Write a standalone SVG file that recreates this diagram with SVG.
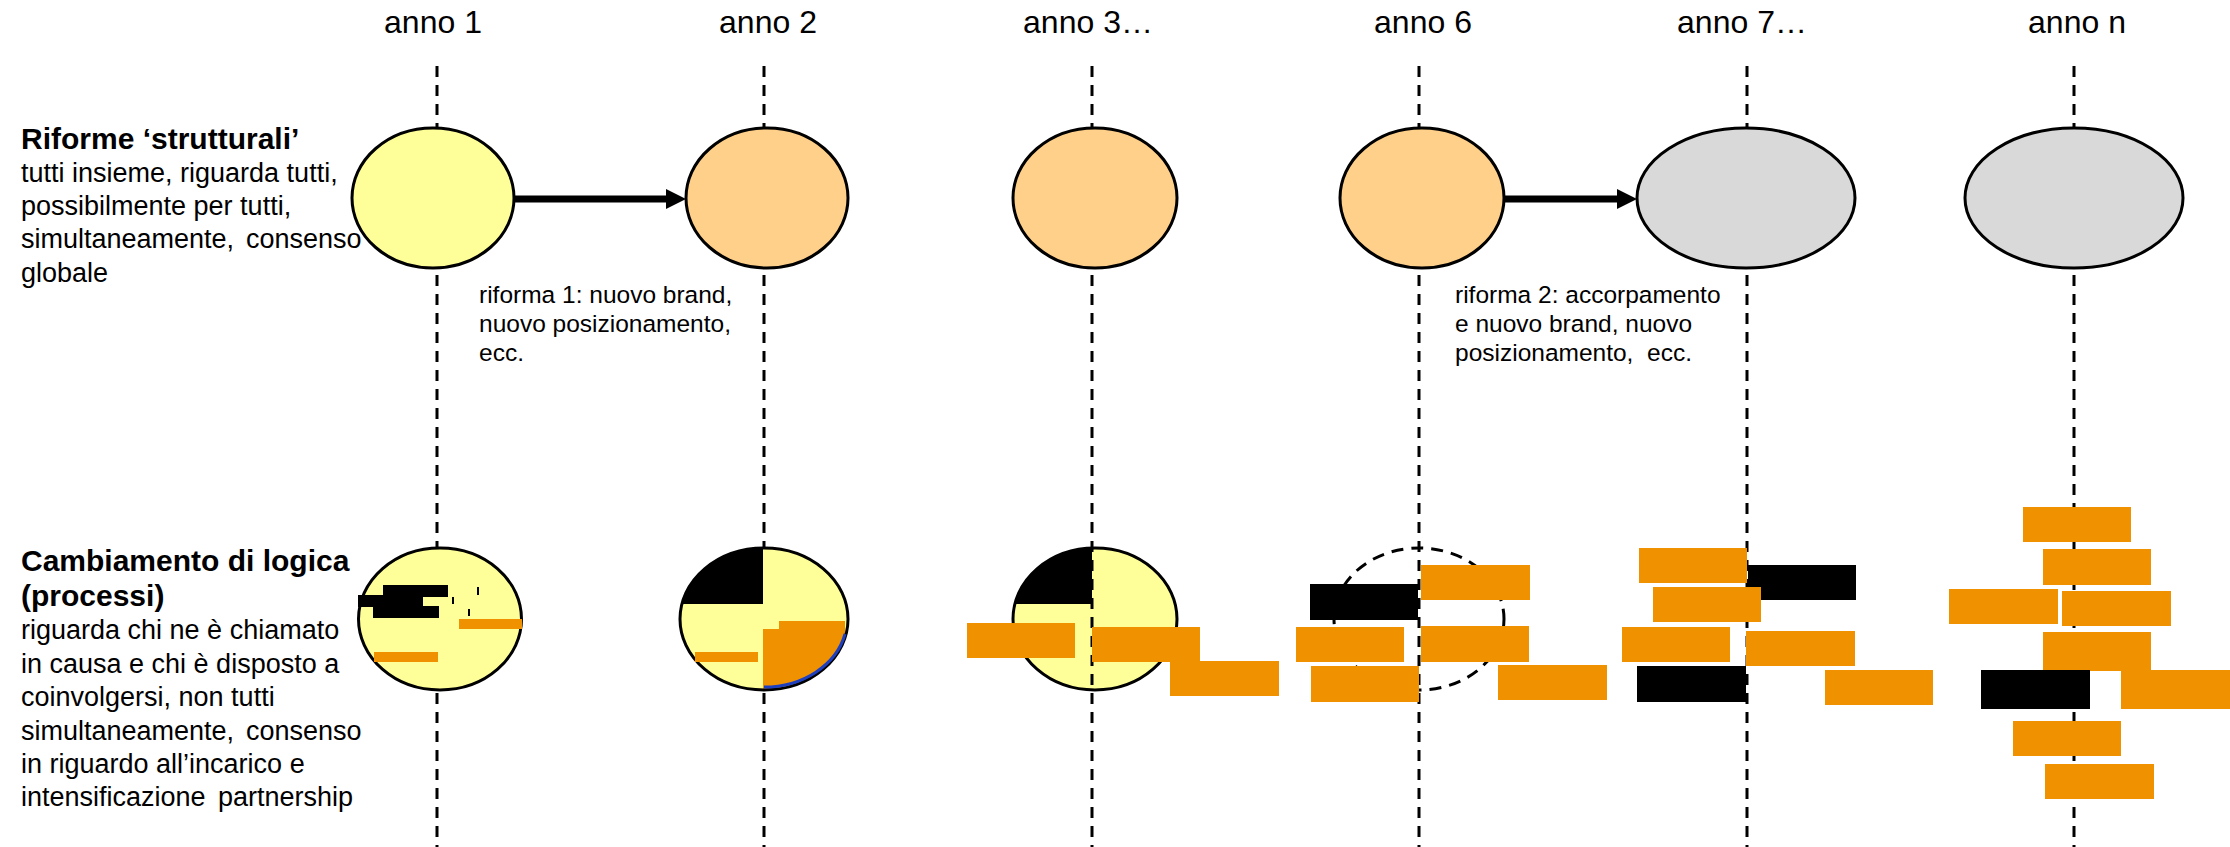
<svg xmlns="http://www.w3.org/2000/svg" width="2230" height="847" viewBox="0 0 2230 847">
  <style>
    .t { font-family: "Liberation Sans", Arial, sans-serif; fill: #000; }
    .hdr { font-size: 32px; text-anchor: middle; }
    .ttl { font-size: 30px; font-weight: bold; }
    .body { font-size: 27px; }
    .note { font-size: 24.5px; }
    .grid { stroke: #000; stroke-width: 3; stroke-dasharray: 11 8; fill: none; }
    .ell { stroke: #000; stroke-width: 3; }
    .yel { fill: #FFFF99; }
    .org { fill: #FFD08A; }
    .gry { fill: #D9D9D9; }
    .bar { fill: #F09100; }
    .blk { fill: #000; }
    .arrow { stroke: #000; stroke-width: 7; fill: none; }
  </style>
  <defs>
    <marker id="head" viewBox="0 0 20 20" refX="0" refY="10" markerUnits="userSpaceOnUse" markerWidth="20" markerHeight="20" orient="auto">
      <path d="M0,0 L20,10 L0,20 z" fill="#000"/>
    </marker>
    <clipPath id="clip-b2"><ellipse cx="764" cy="619" rx="84" ry="71"/></clipPath>
    <clipPath id="clip-b3"><ellipse cx="1095" cy="619" rx="82" ry="71"/></clipPath>
  </defs>

  <rect width="2230" height="847" fill="#fff"/>

  <!-- process circle for year 3 sits under its timeline -->
  <g id="proc-3-circle">
    <ellipse class="yel" cx="1095" cy="619" rx="82" ry="71"/>
    <rect class="blk" x="1000" y="540" width="92" height="64" clip-path="url(#clip-b3)"/>
    <ellipse class="ell" cx="1095" cy="619" rx="82" ry="71" fill="none"/>
  </g>

  <!-- year timelines -->
  <g id="timelines">
    <line class="grid" x1="437" y1="66" x2="437" y2="847"/>
    <line class="grid" x1="764" y1="66" x2="764" y2="847"/>
    <line class="grid" x1="1092" y1="66" x2="1092" y2="847"/>
    <line class="grid" x1="1419" y1="66" x2="1419" y2="847"/>
    <line class="grid" x1="1747" y1="66" x2="1747" y2="847"/>
    <line class="grid" x1="2074" y1="66" x2="2074" y2="847"/>
  </g>

  <!-- year headers -->
  <g id="headers">
    <text class="t hdr" x="433" y="33">anno 1</text>
    <text class="t hdr" x="768" y="33">anno 2</text>
    <text class="t hdr" x="1088" y="33">anno 3…</text>
    <text class="t hdr" x="1423" y="33">anno 6</text>
    <text class="t hdr" x="1742" y="33">anno 7…</text>
    <text class="t hdr" x="2077" y="33">anno n</text>
  </g>

  <!-- row labels -->
  <g id="label-riforme">
    <text class="t ttl" x="21" y="149">Riforme ‘strutturali’</text>
    <text class="t body" x="21" y="182">tutti insieme, riguarda tutti,</text>
    <text class="t body" x="21" y="215">possibilmente per tutti,</text>
    <text class="t body" y="248"><tspan x="21">simultaneamente,</tspan><tspan x="246">consenso</tspan></text>
    <text class="t body" x="21" y="282">globale</text>
  </g>
  <g id="label-logica">
    <text class="t ttl" x="21" y="571">Cambiamento di logica</text>
    <text class="t ttl" x="21" y="606">(processi)</text>
    <text class="t body" x="21" y="639">riguarda chi ne è chiamato</text>
    <text class="t body" x="21" y="673">in causa e chi è disposto a</text>
    <text class="t body" x="21" y="706">coinvolgersi, non tutti</text>
    <text class="t body" y="740"><tspan x="21">simultaneamente,</tspan><tspan x="246">consenso</tspan></text>
    <text class="t body" x="21" y="773">in riguardo all’incarico e</text>
    <text class="t body" y="806"><tspan x="21">intensificazione</tspan><tspan x="218">partnership</tspan></text>
  </g>

  <!-- structural reforms row -->
  <g id="reform-1"><ellipse class="ell yel" cx="433" cy="198" rx="81" ry="70"/></g>
  <g id="reform-2"><ellipse class="ell org" cx="767" cy="198" rx="81" ry="70"/></g>
  <g id="reform-3"><ellipse class="ell org" cx="1095" cy="198" rx="82" ry="70"/></g>
  <g id="reform-6"><ellipse class="ell org" cx="1422" cy="198" rx="82" ry="70"/></g>
  <g id="reform-7"><ellipse class="ell gry" cx="1746" cy="198" rx="109" ry="70"/></g>
  <g id="reform-n"><ellipse class="ell gry" cx="2074" cy="198" rx="109" ry="70"/></g>

  <g id="connectors">
    <line class="arrow" x1="514" y1="199" x2="666" y2="199" marker-end="url(#head)"/>
    <line class="arrow" x1="1504" y1="199" x2="1617" y2="199" marker-end="url(#head)"/>
  </g>

  <g id="note-riforma-1">
    <text class="t note" x="479" y="303">riforma 1: nuovo brand,</text>
    <text class="t note" x="479" y="332">nuovo posizionamento,</text>
    <text class="t note" x="479" y="361">ecc.</text>
  </g>
  <g id="note-riforma-2">
    <text class="t note" x="1455" y="303">riforma 2: accorpamento</text>
    <text class="t note" x="1455" y="332">e nuovo brand, nuovo</text>
    <text class="t note" x="1455" y="361" xml:space="preserve">posizionamento,  ecc.</text>
  </g>

  <!-- process row, year 1 -->
  <g id="proc-1">
    <ellipse class="ell yel" cx="440" cy="619" rx="81.5" ry="71"/>
    <rect class="blk" x="383" y="585" width="65" height="12"/>
    <rect class="blk" x="358" y="595" width="65" height="12"/>
    <rect class="blk" x="373" y="606" width="66" height="12"/>
    <rect class="blk" x="477" y="587" width="2" height="8"/>
    <rect class="blk" x="452" y="597" width="2" height="7"/>
    <rect class="blk" x="468" y="609" width="2" height="7"/>
    <rect class="bar" x="459" y="619" width="63" height="10"/>
    <rect class="bar" x="374" y="652" width="64" height="10"/>
  </g>

  <!-- process row, year 2 -->
  <g id="proc-2">
    <ellipse class="yel" cx="764" cy="619" rx="84" ry="71"/>
    <rect class="blk" x="670" y="540" width="93" height="64" clip-path="url(#clip-b2)"/>
    <polygon class="bar" points="763,629 779,629 779,621 845,621 845,700 763,700" clip-path="url(#clip-b2)"/>
    <ellipse class="ell" cx="764" cy="619" rx="84" ry="71" fill="none"/>
    <path d="M764,687 A83,68 0 0,0 845,634" fill="none" stroke="#1E40C0" stroke-width="3"/>
    <rect class="bar" x="695" y="652" width="63" height="10"/>
  </g>

  <!-- process row, year 3 bars -->
  <g id="proc-3">
    <rect class="bar" x="967" y="623" width="108" height="35"/>
    <rect class="bar" x="1092" y="627" width="108" height="35"/>
    <rect class="bar" x="1170" y="661" width="109" height="35"/>
  </g>

  <!-- process row, year 6 -->
  <g id="proc-6">
    <ellipse cx="1419" cy="619" rx="85" ry="71" fill="none" stroke="#000" stroke-width="3" stroke-dasharray="12 8"/>
    <rect class="blk" x="1310" y="584" width="108" height="36"/>
    <rect class="bar" x="1421" y="565" width="109" height="35"/>
    <rect class="bar" x="1296" y="627" width="108" height="35"/>
    <rect class="bar" x="1421" y="626" width="108" height="36"/>
    <rect class="bar" x="1311" y="666" width="108" height="36"/>
    <rect class="bar" x="1498" y="665" width="109" height="35"/>
  </g>

  <!-- process row, year 7 -->
  <g id="proc-7">
    <rect class="bar" x="1639" y="548" width="108" height="35"/>
    <rect class="blk" x="1748" y="565" width="108" height="35"/>
    <rect class="bar" x="1653" y="587" width="108" height="35"/>
    <rect class="bar" x="1622" y="627" width="108" height="35"/>
    <rect class="bar" x="1746" y="631" width="109" height="35"/>
    <rect class="blk" x="1637" y="666" width="109" height="36"/>
    <rect class="bar" x="1825" y="670" width="108" height="35"/>
  </g>

  <!-- process row, year n -->
  <g id="proc-n">
    <rect class="bar" x="2023" y="507" width="108" height="35"/>
    <rect class="bar" x="2043" y="549" width="108" height="36"/>
    <rect class="bar" x="1949" y="589" width="109" height="35"/>
    <rect class="bar" x="2062" y="591" width="109" height="35"/>
    <rect class="bar" x="2043" y="632" width="108" height="39"/>
    <rect class="blk" x="1981" y="670" width="109" height="39"/>
    <rect class="bar" x="2121" y="670" width="109" height="39"/>
    <rect class="bar" x="2013" y="721" width="108" height="35"/>
    <rect class="bar" x="2045" y="764" width="109" height="35"/>
  </g>
</svg>
